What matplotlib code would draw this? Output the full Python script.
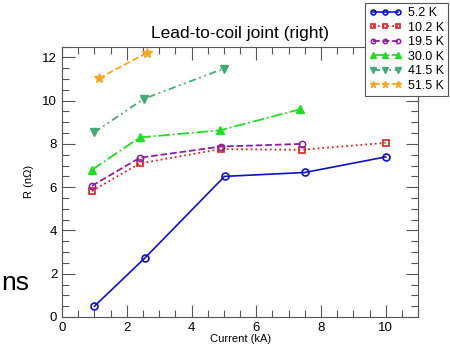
import matplotlib.pyplot as plt
from matplotlib.ticker import MultipleLocator

plt.rcParams['font.family'] = ['Liberation Sans', 'DejaVu Sans']

temps = ["5.2 K", "10.2 K", "19.5 K", "30.0 K", "41.5 K", "51.5 K"]

cur_5 = [1.0, 2.56, 5.02, 7.5, 10.0]
r_5 = [0.5, 2.73, 6.5, 6.68, 7.4]
cur_10 = [0.92, 2.4, 4.9, 7.4, 10.0]
r_10 = [5.82, 7.1, 7.76, 7.73, 8.05]
cur_19 = [0.92, 2.4, 4.91, 7.4]
r_19 = [6.06, 7.36, 7.88, 8.0]
cur_30 = [0.92, 2.4, 4.88, 7.35]
r_30 = [6.8, 8.3, 8.63, 9.6]
cur_41 = [0.99, 2.52, 4.99]
r_41 = [8.53, 10.08, 11.48]
cur_51 = [1.13, 2.63]
r_51 = [11.03, 12.22]

fig = plt.figure(figsize=(4.5, 3.53), dpi=100)
ax = fig.add_axes([0.138, 0.102, 0.791, 0.766])

ax.plot(cur_5, r_5, color='#1010cc', ls='-', lw=1.2, marker='o', ms=5,
        mfc='none', mew=1.2, label=temps[0])
ax.plot(cur_10, r_10, color='#dd2020', ls=':', lw=1.3, marker='s', ms=5,
        mfc='none', mew=1.2, label=temps[1])
ax.plot(cur_19, r_19, color='#8e1e9e', ls='--', lw=1.3, marker='o', ms=4.5,
        mfc='none', mew=1.1, label=temps[2])
ax.plot(cur_30, r_30, color='#22dd22', ls='-.', lw=1.3, marker='^', ms=5.5,
        label=temps[3])
ax.plot(cur_41, r_41, color='#44aa77', ls=(0, (4, 2, 1, 2, 1, 2)), lw=1.3,
        marker='v', ms=5.5, label=temps[4])
ax.plot(cur_51, r_51, color='#f5a623', ls='--', lw=1.3, marker='*', ms=7,
        label=temps[5])

ax.set_xlim(0, 11)
ax.set_ylim(0, 12.5)
ax.xaxis.set_major_locator(MultipleLocator(2))
ax.xaxis.set_minor_locator(MultipleLocator(0.5))
ax.yaxis.set_major_locator(MultipleLocator(2))
ax.yaxis.set_minor_locator(MultipleLocator(0.5))
ax.tick_params(which='both', direction='in', top=True, right=True,
               labelsize=9.5, color='#555555')
ax.tick_params(which='major', length=9, width=0.8)
ax.tick_params(which='minor', length=5, width=0.8)
for s in ax.spines.values():
    s.set_color('#555555')
    s.set_linewidth(0.8)

ax.set_xlabel('Current (kA)', fontsize=8, labelpad=0)
ax.set_ylabel('R (n\u03a9)', fontsize=8, labelpad=6)
ax.set_title('Lead-to-coil joint (right)', fontsize=12.5, pad=6)

leg = fig.legend(loc='upper right', bbox_to_anchor=(1.0, 0.997),
                 borderaxespad=0.15,
                 fontsize=9, numpoints=3, handlelength=2.6, markerscale=0.7,
                 handletextpad=0.5, labelspacing=0.2, borderpad=0.35,
                 fancybox=False, framealpha=1, edgecolor='#555555')
leg.get_frame().set_linewidth(0.8)

fig.text(0.002, 0.198, 'ns', fontsize=19, ha='left', va='center')

fig.savefig('out.png', dpi=100)
